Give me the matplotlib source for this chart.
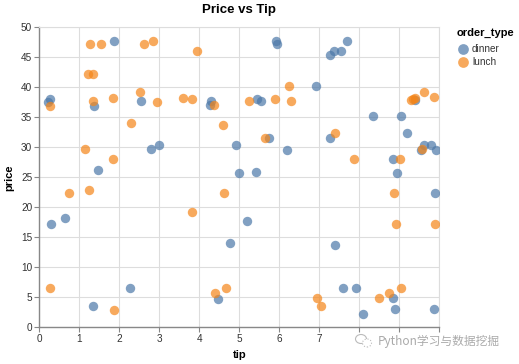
import matplotlib.pyplot as plt
from matplotlib.patches import Ellipse

# dinner points (tip, price)
dinner_tip = [0.21, 0.26, 1.86, 1.37, 2.54, 4.27, 4.30, 2.78, 2.98, 4.91, 4.99, 5.42,
              1.47, 5.92, 5.95, 7.27, 7.37, 7.53, 7.68, 6.91, 5.43, 5.53, 8.35, 9.03,
              9.38, 9.20, 7.27, 5.74, 6.18, 8.84, 9.62, 9.80, 9.54, 9.91, 8.95,
              0.29, 0.65, 5.18, 4.77, 1.34, 2.27, 4.47, 9.89, 7.38, 7.58, 7.92,
              8.83, 8.10, 8.89, 9.86]
dinner_price = [37.6, 38.0, 47.7, 36.9, 37.7, 37.1, 37.7, 29.8, 30.4, 30.4, 25.8, 25.9,
                26.3, 47.7, 47.3, 45.4, 46.1, 46.1, 47.7, 40.2, 38.0, 37.7, 35.2, 35.2,
                37.9, 32.4, 31.5, 31.5, 29.5, 28.0, 30.4, 30.4, 29.5, 29.5, 25.8,
                17.2, 18.3, 17.8, 14.0, 3.6, 6.55, 4.7, 22.4, 13.8, 6.6, 6.6,
                4.9, 2.2, 3.0, 3.0]

# lunch points (tip, price)
lunch_tip = [0.26, 1.27, 1.55, 1.22, 1.33, 1.33, 1.83, 2.62, 2.85, 3.93, 2.51, 2.93,
             3.58, 3.82, 4.36, 2.28, 4.60, 1.15, 1.83, 5.23, 5.88, 6.25, 6.28, 9.28,
             9.33, 9.40, 9.62, 9.87, 7.40, 5.65, 7.87, 9.01, 9.57,
             0.74, 1.25, 3.82, 4.62, 0.26, 1.86, 4.38, 4.67, 8.87, 8.92, 9.89,
             9.04, 8.74, 8.48, 6.94, 7.04]
lunch_price = [36.9, 47.2, 47.3, 42.2, 42.2, 37.7, 38.3, 47.2, 47.7, 46.1, 39.3, 37.6,
               38.3, 38.0, 37.1, 34.0, 33.8, 29.8, 28.0, 37.7, 38.0, 40.2, 37.8, 37.9,
               38.0, 38.3, 39.3, 38.4, 32.4, 31.5, 28.0, 28.0, 29.8,
               22.4, 22.9, 19.2, 22.4, 6.55, 2.9, 5.8, 6.55, 22.4, 17.2, 17.2,
               6.6, 5.8, 4.9, 4.9, 3.55]

x_ticks = list(range(0, 11))
y_ticks = list(range(0, 51, 5))

blue = "#4c78a8"
orange = "#f58518"

plt.rcParams['font.family'] = ['Liberation Sans', 'DejaVu Sans']

W, H = 519, 364
fig = plt.figure(figsize=(W / 100, H / 100), dpi=100)
ax = fig.add_axes([39.3 / W, (H - 327.3) / H, 400 / W, 300 / H])

ax.scatter(dinner_tip, dinner_price, s=46, color=blue, alpha=0.7, linewidths=0, zorder=3)
ax.scatter(lunch_tip, lunch_price, s=46, color=orange, alpha=0.7, linewidths=0, zorder=3)

ax.set_xlim(0, 10)
ax.set_ylim(0, 50)
ax.set_xticks(x_ticks)
ax.set_yticks(y_ticks)
ax.grid(True, color="#dddddd", linewidth=0.8, zorder=0)
ax.set_axisbelow(True)
for side in ["top", "right"]:
    ax.spines[side].set_color("#dddddd")
    ax.spines[side].set_linewidth(0.8)
for side in ["left", "bottom"]:
    ax.spines[side].set_color("#888888")
    ax.spines[side].set_linewidth(1)
ax.tick_params(length=3.6, width=0.8, color="#888888", labelsize=7.2, labelcolor="#333333", pad=1.5)

# the watermark hides the last x tick labels in the original
for lbl, t in zip(ax.get_xticklabels(), x_ticks):
    if t >= 8:
        lbl.set_visible(False)

ax.set_xlabel("tip", fontsize=8, fontweight="bold", labelpad=4)
ax.set_ylabel("price", fontsize=8, fontweight="bold", labelpad=5)
fig.text(239 / W, 1 - 10 / H, "Price vs Tip", ha="center", va="center", fontsize=9.5,
         fontweight="bold")

# legend
fig.text(457 / W, 1 - 33 / H, "order_type", ha="left", va="center", fontsize=8,
         fontweight="bold")
ax.scatter([463 / W], [1 - 49 / H], s=60, color=blue, alpha=0.7, linewidths=0,
           transform=fig.transFigure, clip_on=False)
ax.scatter([463 / W], [1 - 62 / H], s=60, color=orange, alpha=0.7, linewidths=0,
           transform=fig.transFigure, clip_on=False)
ax.set_xlim(0, 10)
ax.set_ylim(0, 50)
fig.text(472 / W, 1 - 49 / H, "dinner", ha="left", va="center", fontsize=7.2, color="#333333")
fig.text(472 / W, 1 - 62 / H, "lunch", ha="left", va="center", fontsize=7.2, color="#333333")

# watermark
fig.text(378 / W, 1 - 341 / H, "Python学习与数据挖掘", ha="left", va="center", fontsize=8.5,
         color="#aaaaaa", family=['Noto Sans CJK SC', 'DejaVu Sans'], zorder=10)
fig.patches.append(Ellipse((361 / W, 1 - 339 / H), 11 / W, 9 / H, facecolor="white",
                           edgecolor="#bbbbbb", linewidth=0.8, transform=fig.transFigure,
                           zorder=11))
fig.patches.append(Ellipse((367 / W, 1 - 343 / H), 9 / W, 8 / H, facecolor="white",
                           edgecolor="#bbbbbb", linewidth=0.8, linestyle=":",
                           transform=fig.transFigure, zorder=12))

fig.savefig("out.png", dpi=100, facecolor="white")
